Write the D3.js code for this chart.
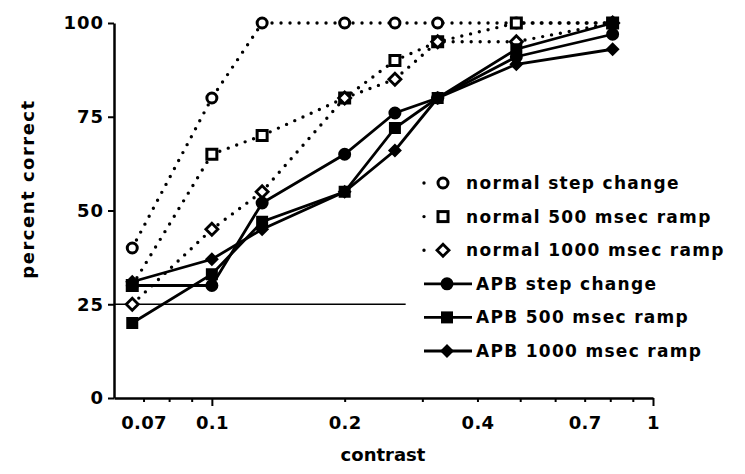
<!DOCTYPE html>
<html>
<head>
<meta charset="utf-8">
<script src="https://cdn.jsdelivr.net/npm/d3@7"></script>
<style>
  body { margin: 0; background: #fff; }
  svg { display: block; }
  text { font-family: "DejaVu Sans", sans-serif; font-weight: bold; fill: #000; }
</style>
</head>
<body>
<svg id="chart" width="745" height="474"></svg>
<script>
// contrast levels (x) and percent correct per condition
const contrasts = [0.066, 0.1, 0.13, 0.2, 0.26, 0.325, 0.49, 0.81];
const normalStep   = [40, 80, 100, 100, 100, 100, 100, 100];
const normal500    = [30, 65, 70, 80, 90, 95, 100, 100];
const normal1000   = [25, 45, 55, 80, 85, 95, 95, 100];
const apbStep      = [30, 30, 52, 65, 76, 80, 91, 97];
const apb500       = [20, 33, 47, 55, 72, 80, 93, 100];
const apb1000      = [31, 37, 45, 55, 66, 80, 89, 93];

const xTicks = [0.07, 0.08, 0.09, 0.1, 0.2, 0.3, 0.4, 0.5, 0.6, 0.7, 0.8, 0.9, 1];
const xLabels = [0.07, 0.1, 0.2, 0.4, 0.7, 1];
const yTicks = [0, 25, 50, 75, 100];
const chance = 25;
const chanceEnd = 0.275;

const series = [
    { name: 'normal step change',    values: normalStep, symbol: 'circle',  filled: false },
    { name: 'normal 500 msec ramp',  values: normal500,  symbol: 'square',  filled: false },
    { name: 'normal 1000 msec ramp', values: normal1000, symbol: 'diamond', filled: false },
    { name: 'APB step change',       values: apbStep,    symbol: 'circle',  filled: true },
    { name: 'APB 500 msec ramp',     values: apb500,     symbol: 'square',  filled: true },
    { name: 'APB 1000 msec ramp',    values: apb1000,    symbol: 'diamond', filled: true }
];

const svg = d3.select('#chart');

const x = d3.scaleLog().domain([0.06, 1]).range([114, 653]);
const y = d3.scaleLinear().domain([0, 100]).range([398, 23]);

// chance line
svg.append('line')
    .attr('x1', x(0.06)).attr('x2', x(chanceEnd))
    .attr('y1', y(chance)).attr('y2', y(chance))
    .style('stroke', '#000').style('stroke-width', 1.6);

// axes
const xAxis = svg.append('g')
    .attr('transform', `translate(0,${y(0)})`)
    .call(d3.axisBottom(x)
        .tickValues(xTicks)
        .tickSize(4)
        .tickSizeOuter(0)
        .tickPadding(14)
        .tickFormat(d => xLabels.includes(d) ? String(d) : ''));
xAxis.selectAll('line').style('stroke-width', 2);
xAxis.selectAll('.tick').filter(d => d === 0.1 || d === 1)
    .select('line').attr('y2', 8);
xAxis.select('.domain').style('stroke-width', 2.5);
xAxis.selectAll('text').style('font-size', '18px').style('font-family', '"DejaVu Sans"')
    .style('font-weight', 'bold').style('letter-spacing', '0.3px');

const yAxis = svg.append('g')
    .attr('transform', `translate(${x(0.06)},0)`)
    .call(d3.axisLeft(y)
        .tickValues(yTicks)
        .tickSize(6)
        .tickSizeOuter(0)
        .tickPadding(4));
yAxis.selectAll('line').style('stroke-width', 2);
yAxis.select('.domain').style('stroke-width', 2.5);
yAxis.selectAll('text').style('font-size', '18px').style('font-family', '"DejaVu Sans"')
    .style('font-weight', 'bold').style('letter-spacing', '1px');

// axis titles
svg.append('text')
    .attr('x', 383).attr('y', 461)
    .attr('text-anchor', 'middle')
    .style('font-size', '18px')
    .text('contrast');

svg.append('text')
    .attr('transform', 'translate(34,189) rotate(-90)')
    .attr('text-anchor', 'middle')
    .style('font-size', '18px')
    .style('letter-spacing', '1.5px')
    .text('percent correct');

// symbol drawing
function drawSymbol(g, s, cx, cy) {
    const fill = s.filled ? '#000' : '#fff';
    if (s.symbol === 'circle') {
        g.append('circle').attr('cx', cx).attr('cy', cy)
            .attr('r', 5)
            .style('fill', fill).style('stroke', '#000').style('stroke-width', 3);
    } else if (s.symbol === 'square') {
        const h = s.filled ? 4.5 : 5;
        g.append('rect').attr('x', cx - h).attr('y', cy - h)
            .attr('width', 2 * h).attr('height', 2 * h)
            .style('fill', fill).style('stroke', '#000').style('stroke-width', 3);
    } else {
        const h = s.filled ? 5 : 6;
        g.append('path')
            .attr('d', `M${cx},${cy - h}L${cx + h},${cy}L${cx},${cy + h}L${cx - h},${cy}Z`)
            .style('fill', fill).style('stroke', '#000').style('stroke-width', 2.8);
    }
}

const line = d3.line()
    .x(d => x(d.c))
    .y(d => y(d.v));

// dotted normal lines, solid APB lines
series.forEach(s => {
    const pts = contrasts.map((c, i) => ({ c: c, v: s.values[i] }));
    svg.append('path')
        .datum(pts)
        .attr('d', line)
        .style('fill', 'none')
        .style('stroke', '#000')
        .style('stroke-width', s.filled ? 2.8 : 3.4)
        .style('stroke-linecap', 'round')
        .style('stroke-dasharray', s.filled ? null : '0 9');
});

series.forEach(s => {
    const g = svg.append('g');
    contrasts.forEach((c, i) => drawSymbol(g, s, x(c), y(s.values[i])));
});

// legend
const legend = svg.append('g');
series.forEach((s, i) => {
    const ly = 183 + i * 33.6;
    const row = legend.append('g');
    if (s.filled) {
        row.append('line').attr('x1', 424).attr('x2', 472)
            .attr('y1', ly).attr('y2', ly)
            .style('stroke', '#000').style('stroke-width', 2.8);
        drawSymbol(row, s, 447, ly);
    } else {
        row.append('line').attr('x1', 424).attr('x2', 462)
            .attr('y1', ly).attr('y2', ly)
            .style('stroke', '#000').style('stroke-width', 3.4)
            .style('stroke-linecap', 'round')
            .style('stroke-dasharray', '0 19');
        drawSymbol(row, s, 443, ly);
    }
    row.append('text')
        .attr('x', s.filled ? 476 : 466)
        .attr('y', ly + 6)
        .style('font-size', '17px')
        .style('letter-spacing', '1.3px')
        .text(s.name);
});
</script>
</body>
</html>
